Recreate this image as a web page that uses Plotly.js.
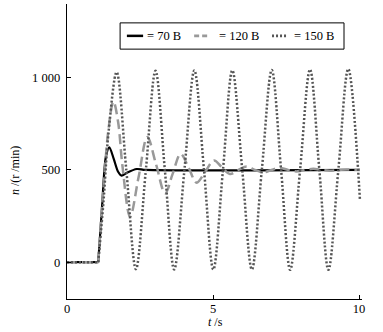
<!DOCTYPE html>
<html>
<head>
<meta charset="utf-8">
<script src="https://cdn.plot.ly/plotly-3.0.1.min.js"></script>
<style>html,body{margin:0;padding:0;background:#fff;}#chart{width:383px;height:332px;}</style>
</head>
<body>
<div id="chart"></div>
<script>
// Series: rotational speed n (r/min) vs time t (s)
const seriesNames = ['= 70 B', '= 120 B', '= 150 B'];

const t70 = [0, 1.07, 1.2, 1.33, 1.45, 1.6, 1.75, 1.87, 2.05, 2.39, 2.7, 10.03];
const n70 = [0, 0, 300, 570, 623, 560, 490, 469, 485, 505, 500, 500];

const t120 = [0, 1.07, 1.25, 1.42, 1.59, 1.75, 1.9, 2.16, 2.45, 2.75, 3.05, 3.36, 3.62, 3.89, 4.17, 4.44, 4.73, 5.03, 5.3, 5.58, 5.87, 6.15, 6.43, 6.72, 7.0, 7.29, 7.57, 7.86, 8.15, 8.43, 8.72, 9.0, 9.3, 9.58, 9.87, 10.03];
const n120 = [0, 0, 400, 720, 871, 760, 520, 246, 460, 678, 530, 373, 480, 587, 510, 431, 490, 551, 515, 478, 500, 518, 500, 487, 500, 511, 500, 492, 500, 506, 500, 496, 500, 503, 500, 500];

const t150 = [0, 1.07, 1.25, 1.42, 1.70, 2.03, 2.36, 2.70, 3.03, 3.35, 3.67, 4.02, 4.36, 4.69, 5.01, 5.34, 5.66, 6.00, 6.33, 6.67, 7.01, 7.33, 7.64, 7.98, 8.32, 8.64, 8.95, 9.29, 9.63, 10.03];
const n150 = [0, 0, 330, 700, 1030, 500, -38, 500, 1038, 500, -40, 500, 1040, 500, -40, 500, 1040, 500, -40, 500, 1042, 500, -42, 500, 1045, 500, -42, 500, 1048, 337];

const yTickVals = [0, 500, 1000];
const yTickText = ['0', '500', '1 000'];
const xTickVals = [0, 5, 10];
const xTickText = ['0', '5', '10'];

const styles = [
  {color: '#000000', width: 2.2, dash: 'solid'},
  {color: '#999999', width: 2.5, dash: '10px,5px'},
  {color: '#555555', width: 2.5, dash: '2px,2px'}
];

const series = [[t70, n70], [t120, n120], [t150, n150]];
const smooth = [0.8, 1, 1];
const traces = [];
// flat start segments (linear), then the response (spline) for each series
series.forEach(function (s, i) {
  traces.push({x: s[0].slice(0, 2), y: s[1].slice(0, 2), name: seriesNames[i], mode: 'lines',
    line: Object.assign({shape: 'linear'}, styles[i]), showlegend: false, hoverinfo: 'skip'});
});
series.forEach(function (s, i) {
  traces.push({x: s[0].slice(1), y: s[1].slice(1), name: seriesNames[i], mode: 'lines',
    line: Object.assign({shape: 'spline', smoothing: smooth[i]}, styles[i]), showlegend: false});
});

// custom legend (paper coords)
const legX = [[0.203, 0.258], [0.431, 0.478], [0.695, 0.746]];
const legTextX = [0.264, 0.508, 0.763];
const legY = 0.892;
const shapes = [
  {type: 'rect', xref: 'paper', yref: 'paper', x0: 0.180, x1: 0.939, y0: 0.847, y1: 0.936, line: {color: '#000', width: 1}, fillcolor: '#fff', layer: 'above'}
];
const annotations = [];
for (let i = 0; i < 3; i++) {
  shapes.push({type: 'line', xref: 'paper', yref: 'paper', x0: legX[i][0], x1: legX[i][1], y0: legY, y1: legY,
    line: {color: styles[i].color, width: styles[i].width + 0.3, dash: i === 1 ? '5px,3px' : styles[i].dash}, layer: 'above'});
  annotations.push({xref: 'paper', yref: 'paper', x: legTextX[i], y: legY, xanchor: 'left', yanchor: 'middle',
    text: seriesNames[i], showarrow: false, font: {size: 12.5, color: '#000'}});
}
annotations.push({xref: 'paper', yref: 'paper', x: 0.502, y: -0.078, xanchor: 'center', yanchor: 'middle',
  text: '<i>t</i> /s', showarrow: false, font: {size: 12, color: '#000'}});
annotations.push({xref: 'paper', yref: 'paper', x: -0.176, y: 0.434, xanchor: 'center', yanchor: 'middle', textangle: -90,
  text: '<i>n</i> /(r /min)', showarrow: false, font: {size: 12, color: '#000'}});

const layout = {
  width: 383, height: 332,
  margin: {l: 67, r: 21, t: 4, b: 33, pad: 0},
  paper_bgcolor: '#fff', plot_bgcolor: '#fff',
  font: {family: 'Liberation Serif, Times New Roman, serif', size: 12, color: '#000'},
  showlegend: false,
  xaxis: {range: [0, 10.1], tickvals: xTickVals, ticktext: xTickText, ticks: 'inside', ticklen: 4, tickwidth: 1, tickcolor: '#000',
    showline: true, linecolor: '#000', linewidth: 1.3, showgrid: false, zeroline: false, mirror: false, tickfont: {size: 12.5}, ticklabelstandoff: -2},
  yaxis: {range: [-200, 1400], tickvals: yTickVals, ticktext: yTickText, ticks: 'inside', ticklen: 4, tickwidth: 1, tickcolor: '#000',
    showline: true, linecolor: '#000', linewidth: 1.3, showgrid: false, zeroline: false, mirror: false, tickfont: {size: 12.5}, ticklabelstandoff: 3},
  shapes: shapes,
  annotations: annotations
};

Plotly.newPlot('chart', traces, layout, {displayModeBar: false, staticPlot: true});
</script>
</body>
</html>
